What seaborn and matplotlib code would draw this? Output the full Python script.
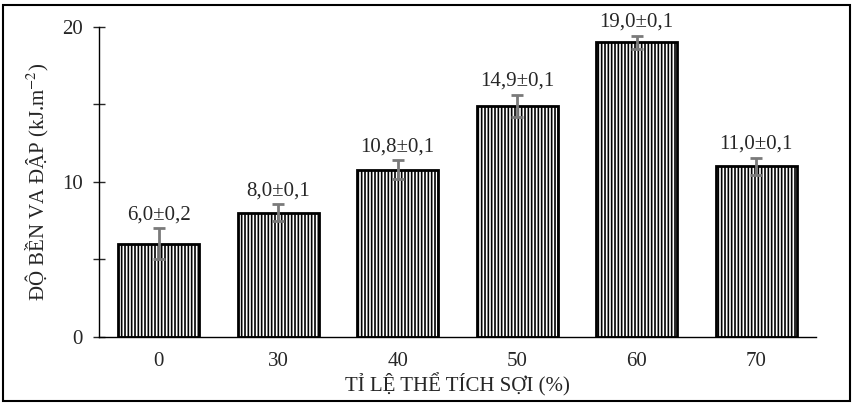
import numpy as np
import pandas as pd
import seaborn as sns
import matplotlib.pyplot as plt
from matplotlib.patches import Rectangle

# fibre volume ratio (%) vs impact strength
ratio = ['0', '30', '40', '50', '60', '70']
strength = [6.0, 8.0, 10.8, 14.9, 19.0, 11.0]
# error bars as drawn on the chart
err_drawn = [1.0, 0.55, 0.6, 0.7, 0.45, 0.55]
labels = ['6,0±0,2', '8,0±0,1', '10,8±0,1', '14,9±0,1', '19,0±0,1', '11,0±0,1']

data = pd.DataFrame({'ratio': ratio, 'strength': strength})

sns.set_style('white')
plt.rcParams['font.family'] = ['Liberation Serif', 'DejaVu Serif']
plt.rcParams['mathtext.fontset'] = 'stix'
plt.rcParams['hatch.linewidth'] = 1.2

fig = plt.figure(figsize=(8.53, 4.03), dpi=100)
ax = fig.add_axes([0.116, 0.164, 0.8406, 0.769])

sns.barplot(x='ratio', y='strength', data=data, order=ratio, ax=ax,
            color='white', edgecolor='black', linewidth=2, width=0.68,
            hatch='|||||')
ax.errorbar(np.arange(len(ratio)), strength, yerr=err_drawn, fmt='none',
            ecolor='#7a7a7a', elinewidth=2, capsize=4, capthick=2)

for i, (v, e, t) in enumerate(zip(strength, err_drawn, labels)):
    ax.annotate(t, (i, v + e), xytext=(0, 3), textcoords='offset points',
                ha='center', va='bottom', fontsize=15, clip_on=False)

ax.set_xlim(-0.5, 5.5)
ax.set_ylim(0, 20)
ax.set_yticks([0, 10, 20])
ax.set_yticks([5, 15], minor=True)
ax.tick_params(axis='y', which='both', direction='inout', length=9,
               width=1, left=True, labelsize=15, pad=7)
ax.tick_params(axis='x', length=0, labelsize=15, pad=11)

for s in ['top', 'right']:
    ax.spines[s].set_visible(False)
ax.spines['left'].set_linewidth(1)
ax.spines['bottom'].set_linewidth(1)
ax.spines['left'].set_color('black')
ax.spines['bottom'].set_color('black')

ax.set_xlabel('TỈ LỆ THỂ TÍCH SỢI (%)', fontsize=15, labelpad=1)
ax.set_ylabel('ĐỘ BỀN VA ĐẬP (kJ.m$^{-2}$)', fontsize=15, labelpad=8)

fig.patches.append(Rectangle((0.004, 0.004), 0.992, 0.984, transform=fig.transFigure,
                             fill=False, edgecolor='black', linewidth=1.5))

plt.savefig('out.png', dpi=100)
